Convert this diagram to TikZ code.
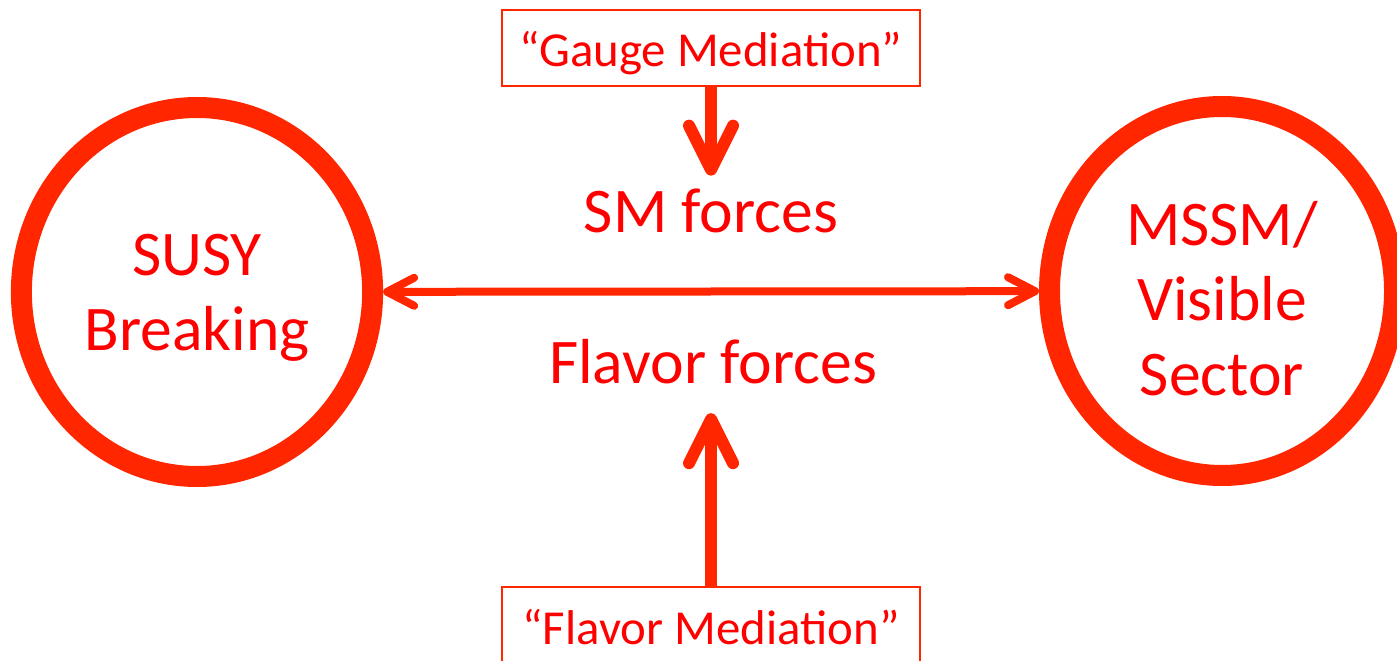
\documentclass[tikz,border=0pt]{standalone}
\usepackage{fontspec}
\setmainfont{Carlito}
\usetikzlibrary{arrows.meta,shapes.geometric,positioning}

\definecolor{ringred}{RGB}{255,38,0}
\definecolor{textred}{RGB}{255,0,0}

\tikzset{
  sector/.style={ellipse, draw=ringred, line width=2.1mm, text=textred, align=center,
    font=\fontsize{18.1pt}{21.3pt}\selectfont, text depth=0pt},
  forces/.style={text=textred, font=\fontsize{18.1pt}{21.3pt}\selectfont, inner sep=1.3mm},
  mediation/.style={draw=ringred, line width=0.2mm, text=textred,
    font=\fontsize{13.9pt}{16pt}\selectfont, minimum width=41.8mm, minimum height=7.6mm,
    text height=3.8mm, text depth=0pt, inner sep=0pt},
  push/.style={draw=ringred, line width=1.2mm, -{Straight Barb[length=4.4mm, width=4.4mm, round]}},
  link/.style={draw=ringred, line width=0.8mm,
    {Straight Barb[length=2.7mm, width=2.8mm, round]}-{Straight Barb[length=2.7mm, width=2.8mm, round]}}
}

\begin{document}
\begin{tikzpicture}[x=0.1mm, y=-0.1mm]
  \useasboundingbox (0,0) rectangle (1397,661);

  % the two sectors
  \node[sector, minimum width=34.8mm, minimum height=36.9mm, text height=11.6mm] (susy) at (197,292) {SUSY\\Breaking};
  \node[sector, minimum width=34.5mm, minimum height=36.9mm, text height=20.8mm] (mssm) at (1222,291) {MSSM/\\Visible\\Sector};

  % forces in between
  \node[forces, anchor=base] (sm) at (711,233) {SM forces};
  \node[forces, anchor=base] (flavor) at (713,383) {Flavor forces};

  % mediation boxes
  \node[mediation] (gauge) at (711,48) {“Gauge Mediation”};
  \node[mediation] (flavmed) at (711,625) {“Flavor Mediation”};

  % arrows
  \draw[link] (susy) -- (mssm);
  \draw[push] (gauge.south) -- (gauge.south |- sm.north);
  \draw[push, shorten >=1.6mm] (flavmed.north) -- (flavmed.north |- flavor.south);
\end{tikzpicture}
\end{document}
